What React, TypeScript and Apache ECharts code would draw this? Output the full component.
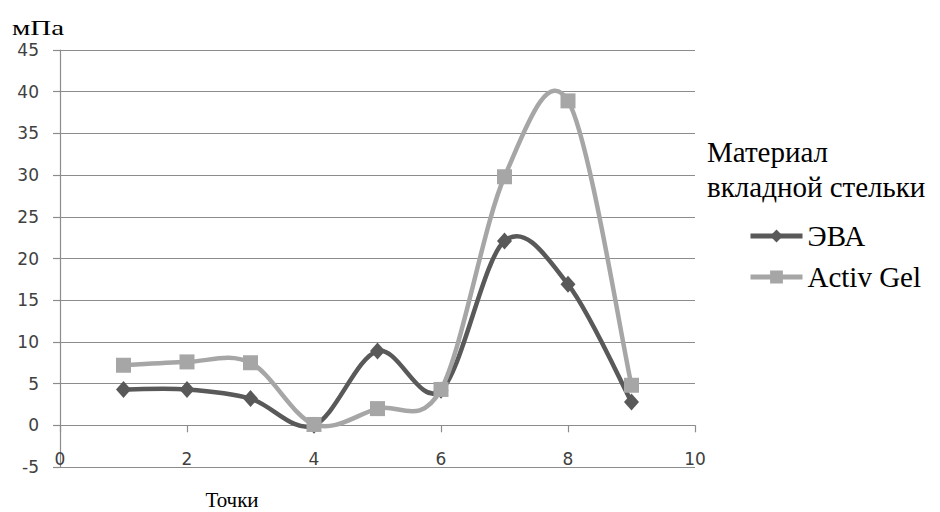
import React, { useEffect, useRef } from "react";
import * as echarts from "echarts";

const xPoints = [1, 2, 3, 4, 5, 6, 7, 8, 9];
const evaValues = [4.3, 4.3, 3.2, 0, 8.9, 4.2, 22.1, 16.9, 2.8];
const gelValues = [7.2, 7.6, 7.5, 0.1, 2.0, 4.3, 29.8, 38.9, 4.8];
const seriesNames = ["ЭВА", "Activ Gel"];
const seriesColors = ["#595959", "#a6a6a6"];
const yTitle = "мПа";
const xTitle = "Точки";
const legendTitle = ["Материал", "вкладной стельки"];

const GRID_COLOR = "#8c8c8c";
const SERIF = "'Liberation Serif', 'Times New Roman', serif";
const SANS = "'DejaVu Sans', Verdana, sans-serif";
const LINE_W = 4.5;

const pairs = (vals: number[]) => xPoints.map((x, i) => [x, vals[i]]);

// Smooth curve (Catmull-Rom style Bezier) drawn through the chart's own scales
const makeCurve = (name: string, vals: number[], color: string, z: number) => ({
  name: name + "-curve",
  type: "custom",
  xAxisIndex: 0,
  yAxisIndex: 0,
  data: pairs(vals),
  encode: { x: 0, y: 1 },
  clip: false,
  silent: true,
  z,
  renderItem: (params: any, api: any) => {
    const i = params.dataIndex;
    const n = vals.length;
    if (i >= n - 1) return { type: "group", children: [] };
    const P = (k: number) => {
      const kk = Math.max(0, Math.min(n - 1, k));
      return api.coord([xPoints[kk], vals[kk]]);
    };
    const p0 = P(i - 1);
    const p1 = P(i);
    const p2 = P(i + 1);
    const p3 = P(i + 2);
    const t = 1 / 6;
    return {
      type: "bezierCurve",
      shape: {
        x1: p1[0],
        y1: p1[1],
        x2: p2[0],
        y2: p2[1],
        cpx1: p1[0] + (p2[0] - p0[0]) * t,
        cpy1: p1[1] + (p2[1] - p0[1]) * t,
        cpx2: p2[0] - (p3[0] - p1[0]) * t,
        cpy2: p2[1] - (p3[1] - p1[1]) * t,
      },
      style: { stroke: color, lineWidth: LINE_W, fill: null, lineCap: "round" },
    };
  },
});

export default function App() {
  const ref = useRef<HTMLDivElement>(null);
  useEffect(() => {
    if (!ref.current) return;
    const chart = echarts.init(ref.current, undefined, { renderer: "svg" });
    chart.setOption({
      animation: false,
      backgroundColor: "#ffffff",
      grid: { left: 60, right: 245, top: 50, bottom: 45, containLabel: false },
      xAxis: [
        {
          type: "value",
          position: "bottom",
          min: 0,
          max: 10,
          interval: 2,
          axisLine: { show: true, onZero: true, lineStyle: { color: GRID_COLOR, width: 1.2 } },
          axisTick: { show: true, length: 7, lineStyle: { color: GRID_COLOR, width: 1.2 } },
          axisLabel: { show: false },
          splitLine: { show: false },
        },
        {
          type: "value",
          position: "bottom",
          min: 0,
          max: 10,
          interval: 2,
          axisLine: { show: false, onZero: false },
          axisTick: { show: false },
          axisLabel: {
            show: true,
            verticalAlign: "bottom",
            margin: 0,
            fontFamily: SANS,
            fontSize: 17,
            color: "#404040",
          },
          splitLine: { show: false },
        },
      ],
      yAxis: {
        type: "value",
        min: -5,
        max: 45,
        interval: 5,
        axisLine: { show: true, onZero: false, lineStyle: { color: GRID_COLOR, width: 1.2 } },
        axisTick: { show: true, length: 7, lineStyle: { color: GRID_COLOR, width: 1.2 } },
        axisLabel: { margin: 21, fontFamily: SANS, fontSize: 17, color: "#404040" },
        splitLine: { show: true, lineStyle: { color: GRID_COLOR, width: 1.2 } },
      },
      legend: {
        orient: "vertical",
        left: 743,
        top: 216,
        itemWidth: 52,
        itemHeight: 16,
        itemGap: 11,
        data: seriesNames.map((name, i) => ({
          name,
          lineStyle: { width: 5, color: seriesColors[i], opacity: 1 },
        })),
        textStyle: { fontFamily: SERIF, fontSize: 29, color: "#000000", lineHeight: 30 },
      },
      graphic: [
        {
          type: "text",
          x: 12,
          y: 28,
          scaleX: 1.45,
          style: {
            text: yTitle,
            font: `20px ${SERIF}`,
            fill: "#000000",
            textVerticalAlign: "middle",
          },
        },
        {
          type: "text",
          x: 232,
          y: 500,
          style: {
            text: xTitle,
            font: `21px ${SERIF}`,
            fill: "#000000",
            textAlign: "center",
            textVerticalAlign: "middle",
          },
        },
        {
          type: "text",
          x: 707,
          y: 152,
          style: {
            text: legendTitle[0],
            font: `29px ${SERIF}`,
            fill: "#000000",
            textVerticalAlign: "middle",
          },
        },
        {
          type: "text",
          x: 707,
          y: 187,
          style: {
            text: legendTitle[1],
            font: `29px ${SERIF}`,
            fill: "#000000",
            textVerticalAlign: "middle",
          },
        },
      ],
      series: [
        makeCurve(seriesNames[0], evaValues, seriesColors[0], 2),
        {
          name: seriesNames[0],
          type: "line",
          xAxisIndex: 0,
          data: pairs(evaValues),
          symbol: "diamond",
          symbolSize: [15, 17],
          z: 3,
          color: seriesColors[0],
          lineStyle: { width: 0, opacity: 0, color: seriesColors[0] },
          itemStyle: { color: seriesColors[0] },
        },
        makeCurve(seriesNames[1], gelValues, seriesColors[1], 4),
        {
          name: seriesNames[1],
          type: "line",
          xAxisIndex: 0,
          data: pairs(gelValues),
          symbol: "rect",
          symbolSize: 15,
          z: 5,
          color: seriesColors[1],
          lineStyle: { width: 0, opacity: 0, color: seriesColors[1] },
          itemStyle: { color: seriesColors[1] },
        },
      ],
    });
    return () => chart.dispose();
  }, []);
  return (
    <div
      ref={ref}
      style={{ position: "fixed", left: 0, top: 0, width: 940, height: 512, background: "#fff" }}
    />
  );
}
